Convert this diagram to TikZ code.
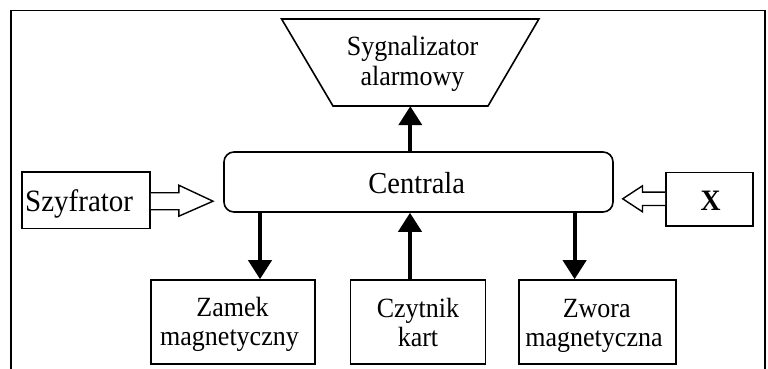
\documentclass[tikz,border=0pt]{standalone}
\usepackage{fontspec}
\setmainfont{Liberation Serif}
\usetikzlibrary{arrows.meta,calc}
\newcommand{\vst}[1]{\scalebox{1}[1.07]{#1}}
\begin{document}
\begin{tikzpicture}[x=1pt,y=-1pt,
  box/.style={draw, line width=1.6pt, inner sep=0pt},
  txt/.style={inner sep=0pt, anchor=base, font=\fontsize{26}{30}\selectfont},
  bigarrow/.style={line width=4pt, -{Triangle[width=23pt,length=19pt]}},
  hollow/.style={draw, line width=1.4pt, line join=miter, fill=white}]
\useasboundingbox (0,0) rectangle (768,369);
% outer frame
\draw[line width=1.6pt] (10.8,380) -- (10.8,10.7) -- (765,10.7) -- (765,380);
% alarm (trapezoid)
\draw[line width=1.6pt] (281.6,19) -- (538.9,19) -- (488,106) -- (333,106) -- cycle;
\node[minimum height=87pt, minimum width=155pt, inner sep=0pt] (syg) at (410.3,62.5) {};
\node[txt] (syg1) at (412.5,55.5) {\vst{Sygnalizator}};
\node[txt] (syg2) at (412.5,85) {\vst{alarmowy}};
% central unit
\node[box, rounded corners=10pt, minimum width=389pt, minimum height=60pt] (cen) at (418.5,182) {};
\node[txt, font=\fontsize{28.5}{34}\selectfont] (cent) at (416.7,193.3) {\vst{Centrala}};
% side boxes
\node[box, minimum width=128.3pt, minimum height=56.6pt] (szy) at (85.85,200) {};
\node[txt, anchor=base west, font=\fontsize{29}{34}\selectfont] (szyt) at (25,211.7) {\vst{Szyfrator}};
\node[box, minimum width=87pt, minimum height=53.5pt] (xb) at (709.5,199.2) {};
\node[txt, font=\bfseries\fontsize{27.7}{32}\selectfont] (xt) at (710.7,210.7) {\vst{X}};
% bottom boxes
\node[box, minimum width=164pt, minimum height=84pt] (zam) at (233,322) {};
\node[txt] (zam1) at (232.5,316.7) {\vst{Zamek}};
\node[txt] (zam2) at (229.5,345.5) {\vst{magnetyczny}};
\node[box, minimum width=134.7pt, minimum height=84pt] (czy) at (418,322) {};
\node[txt] (czy1) at (418,317) {\vst{Czytnik}};
\node[txt] (czy2) at (418,346) {\vst{kart}};
\node[box, minimum width=157pt, minimum height=84pt] (zwo) at (597.5,322) {};
\node[txt] (zwo1) at (596.7,317.5) {\vst{Zwora}};
\node[txt] (zwo2) at (594,346.5) {\vst{magnetyczna}};
% connector columns
\coordinate (c1) at (260,0);
\coordinate (c2) at (410,0);
\coordinate (c3) at (574.6,0);
\draw[bigarrow] (cen.north -| syg.south) -- (syg.south);
\draw[bigarrow] (cen.south -| c1) -- (zam.north -| c1);
\draw[bigarrow] (czy.north -| c2) -- (cen.south -| c2);
\draw[bigarrow] (cen.south -| c3) -- (zwo.north -| c3);
% hollow arrows
\coordinate (t1) at (213,201.2);
\coordinate (t2) at (622.7,198.8);
\coordinate (b1) at (szy.east |- t1);
\coordinate (b2) at (xb.west |- t2);
\draw[hollow] ($(b1)+(0,-8.5)$) -- ($(b1)+(28,-8.5)$) -- ($(b1)+(28,-16)$) -- (t1) -- ($(b1)+(28,15)$) -- ($(b1)+(28,8.5)$) -- ($(b1)+(0,8.5)$);
\draw[hollow] ($(b2)+(0,-6.7)$) -- ($(b2)+(-22.7,-6.7)$) -- ($(b2)+(-22.7,-13)$) -- (t2) -- ($(b2)+(-22.7,13)$) -- ($(b2)+(-22.7,6.7)$) -- ($(b2)+(0,6.7)$);
\end{tikzpicture}
\end{document}
